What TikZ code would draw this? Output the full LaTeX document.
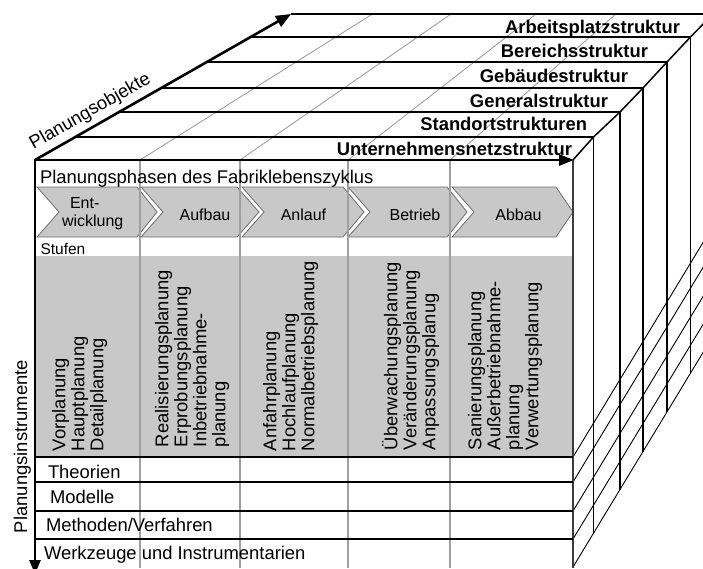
\documentclass[tikz,border=0pt]{standalone}
\usepackage{fontspec}
\setmainfont{Liberation Sans}
\usetikzlibrary{arrows.meta}
\definecolor{fillgray}{RGB}{200,200,200}
\definecolor{divgray}{RGB}{160,160,160}
\definecolor{topgray}{RGB}{150,150,150}
\definecolor{chevline}{RGB}{110,110,110}
\definecolor{edgegray}{RGB}{60,60,60}
\begin{document}
\begin{tikzpicture}[x=1pt,y=-1pt,
  every node/.style={inner sep=0pt, outer sep=0pt, font=\fontsize{18.4pt}{19pt}\selectfont},
  lbl/.style={anchor=base west},
  chevtext/.style={anchor=base, font=\fontsize{16pt}{18pt}\selectfont},
  boldlbl/.style={anchor=base east, font=\fontsize{18.4pt}{19pt}\selectfont\bfseries},
  vtext/.style={rotate=90, anchor=north west, align=left},
  chev/.style={fill=fillgray, draw=chevline, line width=0.8pt},
  divider/.style={draw=divgray, line width=1.4pt},
  topdiv/.style={draw=topgray, line width=0.8pt},
  layer/.style={draw=black, line width=2.2pt},
  rowline/.style={draw=black, line width=2pt},
  sidev/.style={draw=black, line width=1.9pt},
  sideedge/.style={draw=black, line width=1.5pt},
  sidethin/.style={draw=black, line width=0.9pt},
  frontedge/.style={draw=edgegray, line width=1.3pt},
  axis/.style={draw=black, line width=2.6pt}
]
\useasboundingbox (0,0) rectangle (703,568);
\begin{scope}
\clip (0,0) rectangle (703,568);

% named corners
\coordinate (d0) at (35,160);
\coordinate (d1) at (75.5,137);
\coordinate (d2) at (119.5,112);
\coordinate (d3) at (161.7,88);
\coordinate (d4) at (207.5,62);
\coordinate (d5) at (251.5,37);
\coordinate (d6) at (291,14);
\coordinate (r0) at (573,160);
\coordinate (r1) at (593.5,137);
\coordinate (r2) at (620,112);
\coordinate (r3) at (643,88);
\coordinate (r4) at (667,62);
\coordinate (r5) at (690.5,37);
\coordinate (r6) at (713,14);
\coordinate (b1) at (593.5,533);
\coordinate (b2) at (620,489.5);
\coordinate (b3) at (643,451.5);
\coordinate (b4) at (667,412);
\coordinate (b5) at (690.5,373);
\coordinate (b6) at (713,336);
\coordinate (fb) at (573,568);

% gray stage area
\fill[fillgray] (35,256) rectangle (573,457);

% chevrons
\path[chev] (37,187) -- (137,187) -- (157,212) -- (137,237) -- (37,237) -- (59,212) -- cycle;
\path[chev] (141,187) -- (237,187) -- (259,212) -- (237,237) -- (141,237) -- (163,212) -- cycle;
\path[chev] (242,187) -- (343,187) -- (364,212) -- (343,237) -- (242,237) -- (264,212) -- cycle;
\path[chev] (348,187) -- (447,187) -- (467,212) -- (447,237) -- (348,237) -- (370,212) -- cycle;
\path[chev] (452,187) -- (556,187) -- (573,212) -- (556,237) -- (452,237) -- (474,212) -- cycle;

% column dividers on the front face
\foreach \xx in {140,240,348,450} {\draw[divider] (\xx,160) -- (\xx,568);}

% gray dividers on the top face
\draw[topdiv] (140,160) -- (372.5,14);
\draw[topdiv] (240,160) -- (451,14);
\draw[topdiv] (348,160) -- (536,14);
\draw[topdiv] (450,160) -- (616,14);

% layers on top face
\draw[layer] (d1) -- (r1);
\draw[layer] (d2) -- (r2);
\draw[layer] (d3) -- (r3);
\draw[layer] (d4) -- (r4);
\draw[layer] (d5) -- (r5);
\draw[layer] (d6) -- (r6);
\draw[sideedge] (r0) -- (r1) -- (r2) -- (r3) -- (r4) -- (r5) -- (r6);

% side verticals
\draw[sidev] (r1) -- (b1);
\draw[sidev] (r2) -- (b2);
\draw[sidev] (r3) -- (b3);
\draw[sidev] (r4) -- (b4);
\draw[sidev] (r5) -- (b5);
\draw[sidev] (r6) -- (b6);

% side thin slanted lines
\foreach \yy in {457,482,511,539,567} {\draw[sidethin] (573,\yy) -- ++(140,-231);}

% front right edge
\draw[frontedge] (r0) -- (fb);

% row lines
\foreach \yy in {457,482,511,539} {\draw[rowline] (35,\yy) -- (573,\yy);}

% axes
\draw[axis, {Triangle[length=14pt,width=11pt]}-{Triangle[length=15pt,width=11pt]}] (35,574) -- (d0) -- (574,160);
\draw[axis, -{Triangle[length=15pt,width=12pt]}] (d0) -- (d6);

% texts
\node[rotate=29.7, anchor=base] (pobj) at (92.7,115.7) {Planungsobjekte};
\node[rotate=90, anchor=base west] (pinst) at (27,533) {Planungsinstrumente};

\node[boldlbl] (l1) at (572,155) {Unternehmensnetzstruktur};
\node[boldlbl] (l2) at (587,130) {Standortstrukturen};
\node[boldlbl] (l3) at (608,107) {Generalstruktur};
\node[boldlbl] (l4) at (628,82) {Gebäudestruktur};
\node[boldlbl] (l5) at (648,57) {Bereichsstruktur};
\node[boldlbl] (l6) at (680,33) {Arbeitsplatzstruktur};

\node[lbl] (phasen) at (40,183.5) {Planungsphasen des Fabriklebenszyklus};
\node[anchor=base west, font=\fontsize{16pt}{18pt}\selectfont] (ph1a) at (70,208) {Ent-};
\node[anchor=base west, font=\fontsize{16pt}{18pt}\selectfont] (ph1b) at (62,226) {wicklung};
\node[chevtext] (ph2) at (205,220) {Aufbau};
\node[chevtext] (ph3) at (303.5,220) {Anlauf};
\node[chevtext] (ph4) at (415,220) {Betrieb};
\node[chevtext] (ph5) at (518.5,220) {Abbau};
\node[anchor=base west, font=\fontsize{15.5pt}{18pt}\selectfont] (stufen) at (40.5,254.5) {Stufen};

\node[vtext] (s1) at (52,451) {Vorplanung\\Hauptplanung\\Detailplanung};
\node[vtext] (s2) at (155,447) {Realisierungsplanung\\Erprobungsplanung\\Inbetriebnahme-\\planung};
\node[vtext] (s3) at (263,451) {Anfahrplanung\\Hochlaufplanung\\Normalbetriebsplanung};
\node[vtext] (s4) at (382,450) {Überwachungsplanung\\Veränderungsplanung\\Anpassungsplanug};
\node[vtext] (s5) at (468,450) {Sanierungsplanung\\Außerbetriebnahme-\\planung\\Verwertungsplanung};

\node[lbl] (t1) at (48,478) {Theorien};
\node[lbl] (t2) at (50,503) {Modelle};
\node[lbl] (t3) at (46,531.5) {Methoden/Verfahren};
\node[lbl] (t4) at (44,559) {Werkzeuge und Instrumentarien};
\end{scope}
\end{tikzpicture}
\end{document}
